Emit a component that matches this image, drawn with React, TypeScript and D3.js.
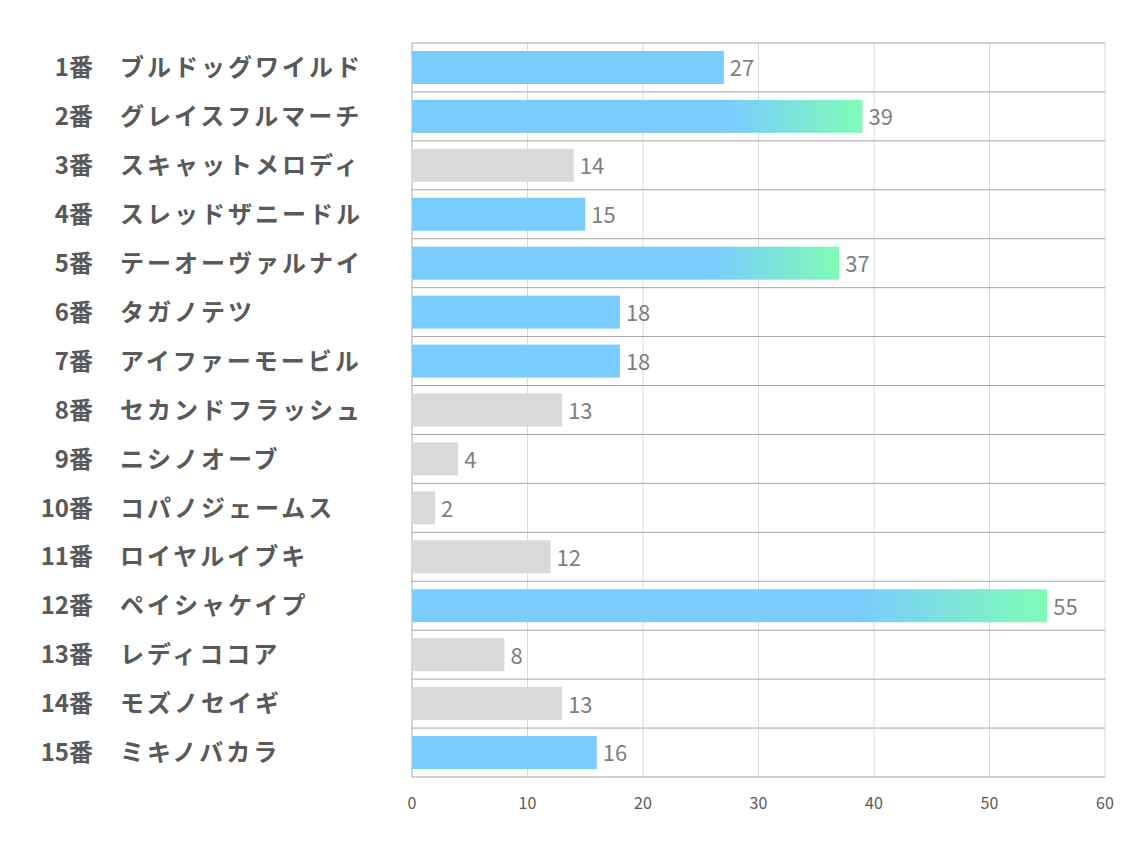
import React from "react";
import * as d3 from "d3";

const numbers = ["1番","2番","3番","4番","5番","6番","7番","8番","9番","10番","11番","12番","13番","14番","15番"];
const names = ["ブルドッグワイルド","グレイスフルマーチ","スキャットメロディ","スレッドザニードル","テーオーヴァルナイ","タガノテツ","アイファーモービル","セカンドフラッシュ","ニシノオーブ","コパノジェームス","ロイヤルイブキ","ペイシャケイプ","レディココア","モズノセイギ","ミキノバカラ"];
const values = [27,39,14,15,37,18,18,13,4,2,12,55,8,13,16];
// 0 = gray, 1 = blue, 2 = blue→green gradient
const kinds = [1,2,0,1,2,1,1,0,0,0,0,2,0,0,1];
const ticks = [0,10,20,30,40,50,60];

const W = 1134, H = 850;
const left = 412, right = 1105, top = 43, bottom = 777;

export default function App() {
  const x = d3.scaleLinear().domain([0, 60]).range([left, right]);
  const step = (bottom - top) / values.length;
  const rowY = (i: number) => top + i * step;
  const font = "'Noto Sans CJK JP', 'Noto Sans', sans-serif";
  return (
    <svg width={W} height={H} style={{ position: "absolute", left: 0, top: 0, background: "#fff" }}>
      <defs>
        <linearGradient id="g" x1="0" x2="1" y1="0" y2="0">
          <stop offset="0" stopColor="#7ACBFE" />
          <stop offset="0.7" stopColor="#7ACBFE" />
          <stop offset="1" stopColor="#7FFCB6" />
        </linearGradient>
      </defs>
      {ticks.map((t) => (
        <line key={"v" + t} x1={x(t)} x2={x(t)} y1={top} y2={bottom} stroke="#d9d9d9" strokeWidth={1} />
      ))}
      {d3.range(values.length + 1).map((i) => (
        <line key={"h" + i} x1={left} x2={right} y1={rowY(i)} y2={rowY(i)} stroke="#a6a6a6" strokeWidth={1} />
      ))}
      <line x1={left} x2={left} y1={top} y2={bottom} stroke="#bfbfbf" strokeWidth={1} />
      {values.map((v, i) => {
        const cy = rowY(i) + step / 2;
        const bh = 33;
        const fill = kinds[i] === 0 ? "#D9D9D9" : kinds[i] === 1 ? "#7ACBFE" : "url(#g)";
        return (
          <g key={i}>
            <rect x={x(0)} y={cy - bh / 2} width={x(v) - x(0)} height={bh} fill={fill} />
            <text x={x(v) + 6} y={cy + 1} dy="0.36em" fontSize={22} fill="#7f7f7f" fontFamily={font}>{v}</text>
            <text x={93} y={cy} dy="0.36em" textAnchor="end" fontSize={24} fontWeight="bold" fill="#595959" fontFamily={font}>{numbers[i]}</text>
            <text x={120} y={cy} dy="0.36em" fontSize={24} fontWeight="bold" fill="#595959" fontFamily={font} letterSpacing={3}>{names[i]}</text>
          </g>
        );
      })}
      {ticks.map((t) => (
        <text key={"t" + t} x={x(t)} y={803} dy="0.36em" textAnchor="middle" fontSize={16} fill="#595959" fontFamily={font}>{t}</text>
      ))}
    </svg>
  );
}
